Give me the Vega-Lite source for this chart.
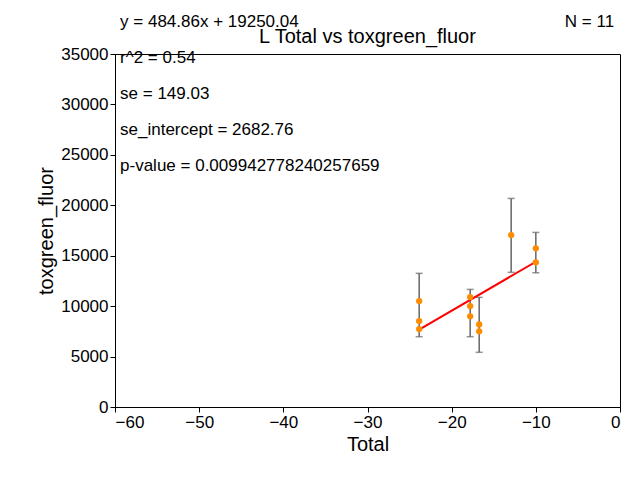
{
"$schema":"https://vega.github.io/schema/vega-lite/v6.json",
"width":505,"height":353,
"autosize":{"type":"none"},
"padding":{"left":115,"top":54,"right":20,"bottom":73},
"config":{"font":"Liberation Sans","view":{"stroke":"black"},"axis":{"grid":false,"domainColor":"black","tickColor":"black","labelColor":"black","titleColor":"black","labelFontSize":17,"titleFontSize":20,"titleFontWeight":"normal","tickSize":5,"format":"d"}},
"title":{"text":"L Total vs toxgreen_fluor","fontSize":20,"fontWeight":"normal","offset":-34,"color":"black"},
"datasets":{
"pts":[{"x":-23.86,"y":10500},{"x":-23.86,"y":8520},{"x":-23.86,"y":7730},{"x":-17.8,"y":10900},{"x":-17.8,"y":10010},{"x":-17.8,"y":8990},{"x":-16.73,"y":8190},{"x":-16.73,"y":7500},{"x":-12.93,"y":17050},{"x":-10,"y":15730},{"x":-10,"y":14340}],
"err":[{"x":-23.86,"lo":6970,"hi":13250},{"x":-17.8,"lo":6970,"hi":11660},{"x":-16.73,"lo":5420,"hi":10870},{"x":-12.93,"lo":13350,"hi":20680},{"x":-10,"lo":13310,"hi":17310}],
"fit":[{"x":-23.86,"y":7682},{"x":-10,"y":14402}],
"ann":[{"x":-59.4,"y":38150,"t":"y = 484.86x + 19250.04"},{"x":-59.4,"y":34590,"t":"r^2 = 0.54"},{"x":-59.4,"y":31020,"t":"se = 149.03"},{"x":-59.4,"y":27450,"t":"se_intercept = 2682.76"},{"x":-59.4,"y":23880,"t":"p-value = 0.009942778240257659"}],
"n":[{"x":-0.7,"y":38150,"t":"N = 11"}]
},
"layer":[
{"data":{"name":"err"},"mark":{"type":"rule","color":"#666666","strokeWidth":1.5},"encoding":{"x":{"field":"x","type":"quantitative","scale":{"domain":[-60,0]},"axis":{"values":[-60,-50,-40,-30,-20,-10,0]},"title":"Total"},"y":{"field":"lo","type":"quantitative","scale":{"domain":[0,35000]},"title":"toxgreen_fluor"},"y2":{"field":"hi"}}},
{"data":{"name":"err"},"mark":{"type":"tick","color":"#666666","orient":"horizontal","size":7,"thickness":1.5},"encoding":{"x":{"field":"x","type":"quantitative"},"y":{"field":"lo","type":"quantitative"}}},
{"data":{"name":"err"},"mark":{"type":"tick","color":"#666666","orient":"horizontal","size":7,"thickness":1.5},"encoding":{"x":{"field":"x","type":"quantitative"},"y":{"field":"hi","type":"quantitative"}}},
{"data":{"name":"fit"},"mark":{"type":"line","color":"red","strokeWidth":2},"encoding":{"x":{"field":"x","type":"quantitative"},"y":{"field":"y","type":"quantitative"}}},
{"data":{"name":"pts"},"mark":{"type":"circle","color":"darkorange","opacity":1,"size":40},"encoding":{"x":{"field":"x","type":"quantitative"},"y":{"field":"y","type":"quantitative"}}},
{"data":{"name":"ann"},"mark":{"type":"text","align":"left","baseline":"middle","fontSize":17,"clip":false,"color":"black"},"encoding":{"x":{"field":"x","type":"quantitative"},"y":{"field":"y","type":"quantitative"},"text":{"field":"t"}}},
{"data":{"name":"n"},"mark":{"type":"text","align":"right","baseline":"middle","fontSize":17,"clip":false,"color":"black"},"encoding":{"x":{"field":"x","type":"quantitative"},"y":{"field":"y","type":"quantitative"},"text":{"field":"t"}}}
]
}
